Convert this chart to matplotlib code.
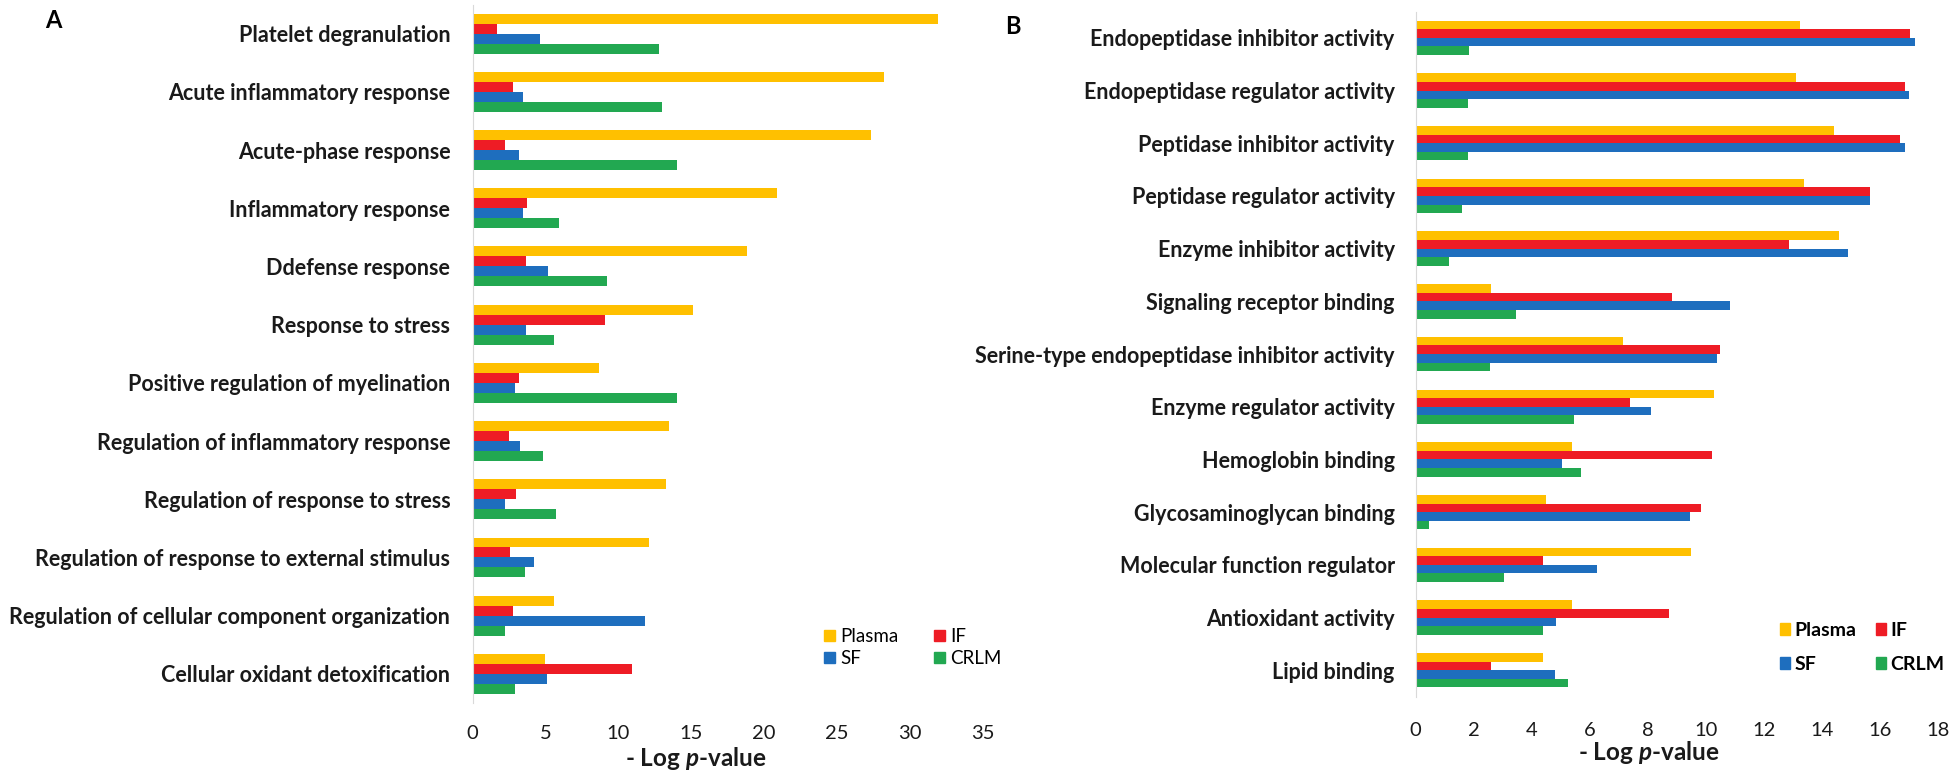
import numpy as np
import matplotlib
matplotlib.use('Agg')
import matplotlib.pyplot as plt
from matplotlib.patches import Patch

plt.rcParams['font.family'] = ['Lato', 'DejaVu Sans']
plt.rcParams['mathtext.fontset'] = 'custom'
plt.rcParams['mathtext.it'] = 'Lato:italic:bold'
plt.rcParams['mathtext.rm'] = 'Lato:bold'

# 数据
series = ['Plasma', 'IF', 'SF', 'CRLM']
colors = ['#FFC000', '#EE1C25', '#1E6EBE', '#22A851']

terms_a = ['Platelet degranulation', 'Acute inflammatory response', 'Acute-phase response',
           'Inflammatory response', 'Ddefense response', 'Response to stress',
           'Positive regulation of myelination', 'Regulation of inflammatory response',
           'Regulation of response to stress', 'Regulation of response to external stimulus',
           'Regulation of cellular component organization', 'Cellular oxidant detoxification']
plasma_a = [31.9, 28.2, 27.3, 20.9, 18.8, 15.1, 8.7, 13.5, 13.3, 12.1, 5.6, 5.0]
if_a = [1.7, 2.8, 2.2, 3.75, 3.65, 9.05, 3.2, 2.5, 3.0, 2.6, 2.8, 10.95]
sf_a = [4.6, 3.45, 3.2, 3.45, 5.15, 3.7, 2.9, 3.25, 2.2, 4.2, 11.8, 5.1]
crlm_a = [12.8, 13.0, 14.0, 5.95, 9.2, 5.6, 14.0, 4.8, 5.75, 3.6, 2.2, 2.9]

terms_b = ['Endopeptidase inhibitor activity', 'Endopeptidase regulator activity',
           'Peptidase inhibitor activity', 'Peptidase regulator activity',
           'Enzyme inhibitor activity', 'Signaling receptor binding',
           'Serine-type endopeptidase inhibitor activity', 'Enzyme regulator activity',
           'Hemoglobin binding', 'Glycosaminoglycan binding', 'Molecular function regulator',
           'Antioxidant activity', 'Lipid binding']
plasma_b = [13.25, 13.1, 14.4, 13.4, 14.6, 2.6, 7.15, 10.3, 5.4, 4.5, 9.5, 5.4, 4.4]
if_b = [17.05, 16.85, 16.7, 15.65, 12.85, 8.85, 10.5, 7.4, 10.2, 9.85, 4.4, 8.75, 2.6]
sf_b = [17.2, 17.0, 16.85, 15.65, 14.9, 10.85, 10.4, 8.1, 5.05, 9.45, 6.25, 4.85, 4.8]
crlm_b = [1.85, 1.8, 1.8, 1.6, 1.15, 3.45, 2.55, 5.45, 5.7, 0.45, 3.05, 4.4, 5.25]

fig = plt.figure(figsize=(19.5, 7.77), dpi=100)
W, H = 1950, 777


def panel(rect, terms, data, xmax, xstep, group, pad_y, pad_x, lab_xy):
    ax = fig.add_axes(rect)
    n = len(terms)
    y = np.arange(n)
    h = group / 4
    for k, vals in enumerate(data):
        ax.barh(y + (k - 1.5) * h, vals, height=h, color=colors[k], label=series[k])
    ax.set_ylim(n - 0.5, -0.5)
    ax.set_xlim(0, xmax)
    ax.set_yticks(y)
    ax.set_yticklabels(terms, fontsize=15.5, fontweight='bold', color='#1a1a1a')
    ax.set_xticks(np.arange(0, xmax + 0.1, xstep))
    ax.tick_params(axis='y', length=0, pad=pad_y)
    ax.tick_params(axis='x', length=0, pad=pad_x, labelsize=14.5, labelcolor='#1a1a1a')
    for s in ['top', 'right', 'bottom']:
        ax.spines[s].set_visible(False)
    ax.spines['left'].set_color('#D9D9D9')
    ax.set_xlabel(r'- Log $p$-value', fontsize=17.5, fontweight='bold', color='#1a1a1a')
    ax.xaxis.label.set_va('center')
    ax.xaxis.set_label_coords(*lab_xy)
    return ax


# A
axA = panel([472.5 / W, 1 - 703 / H, 510.5 / W, 698.5 / H], terms_a,
            [plasma_a, if_a, sf_a, crlm_a], 35, 5, 0.686, 16, 16,
            (0.438, (703 - 758) / 698.5))
# B
axB = panel([1415.5 / W, 1 - 696.6 / H, 522.5 / W, 685.1 / H], terms_b,
            [plasma_b, if_b, sf_b, crlm_b], 18, 2, 0.651, 15, 18,
            (0.447, (696.6 - 753) / 685.1))

fig.text(53 / W, 1 - 20 / H, 'A', fontsize=17, fontweight='bold', ha='center', va='center')
fig.text(1013 / W, 1 - 27 / H, 'B', fontsize=17, fontweight='bold', ha='center', va='center')

handles = [Patch(color=colors[i]) for i in [0, 2, 1, 3]]
labels = [series[i] for i in [0, 2, 1, 3]]
fig.legend(handles, labels, loc='upper left', bbox_to_anchor=(815 / W, 1 - 619 / H),
           ncol=2, frameon=False, fontsize=13.5, borderpad=0, handlelength=0.55,
           handleheight=0.55, handletextpad=0.3, columnspacing=1.9, labelspacing=0.25)
fig.legend(handles, labels, loc='upper left', bbox_to_anchor=(1770 / W, 1 - 612 / H),
           ncol=2, frameon=False, prop={'size': 14, 'weight': 'bold'}, borderpad=0,
           handlelength=0.55, handleheight=0.55, handletextpad=0.2, columnspacing=1.0,
           labelspacing=0.9)

fig.savefig('out.png', dpi=100)
